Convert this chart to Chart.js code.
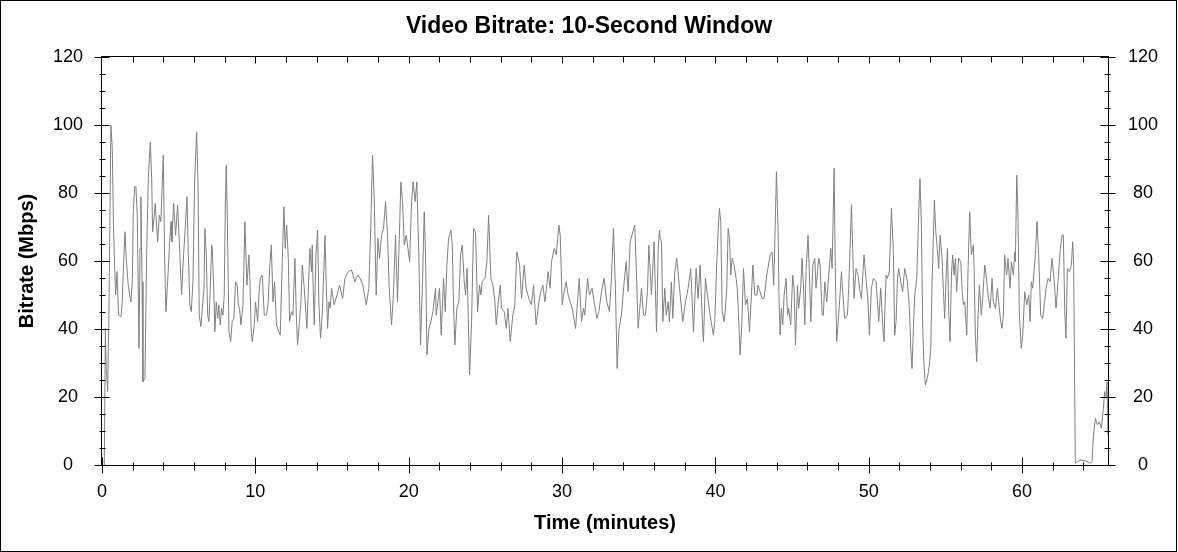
<!DOCTYPE html>
<html>
<head>
<meta charset="utf-8">
<title>Video Bitrate: 10-Second Window</title>
<script src="https://cdn.jsdelivr.net/npm/chart.js@4.4.1/dist/chart.umd.min.js"></script>
<style>
  html, body { margin: 0; padding: 0; background: #fff; }
  canvas { display: block; }
</style>
</head>
<body>
<canvas id="bitrateChart" width="1178" height="552"></canvas>
<script>
// time of each 10-second window sample, in minutes
const timeMinutes = [
  0.15, 0.22, 0.28, 0.37, 0.45, 0.58, 0.67, 0.74, 0.82, 0.89, 0.98, 1.08, 1.24, 1.32, 1.41,
  1.50, 1.58, 1.71, 1.80, 1.89, 1.98, 2.04, 2.13, 2.21, 2.30, 2.41, 2.48, 2.54, 2.61, 2.67,
  2.80, 2.91, 3.02, 3.15, 3.24, 3.30, 3.39, 3.47, 3.56, 3.63, 3.74, 3.84, 3.93, 4.00, 4.08,
  4.17, 4.28, 4.39, 4.50, 4.56, 4.67, 4.80, 4.93, 5.06, 5.19, 5.32, 5.45, 5.54, 5.63, 5.73,
  5.82, 5.93, 6.04, 6.17, 6.26, 6.34, 6.45, 6.56, 6.65, 6.71, 6.80, 6.89, 6.97, 7.06, 7.15,

  7.19, 7.30, 7.36, 7.45, 7.54, 7.62, 7.71, 7.80, 7.89, 7.97, 8.04, 8.10, 8.17, 8.28, 8.39,
  8.49, 8.60, 8.71, 8.82, 8.89, 8.97, 9.06, 9.19, 9.25, 9.32, 9.45, 9.58, 9.65, 9.73, 9.80,
  9.93, 10.01, 10.15, 10.23, 10.32, 10.45, 10.58, 10.73, 10.84, 10.93, 11.04, 11.15, 11.25, 11.38, 11.62,
  11.78, 11.86, 11.95, 12.04, 12.15, 12.23, 12.36, 12.45, 12.58, 12.67, 12.75, 12.88, 12.97, 13.06, 13.19,
  13.36, 13.49, 13.56, 13.67, 13.71, 13.77, 13.84, 13.95, 14.06, 14.14, 14.25, 14.36, 14.47,

  14.54, 14.62, 14.71, 14.80, 14.88, 14.97, 15.14, 15.32, 15.49, 15.69, 15.84, 16.06, 16.27, 16.49, 16.67,
  16.84, 17.01, 17.23, 17.40, 17.53, 17.64, 17.75, 17.88, 17.99, 18.10, 18.23, 18.36, 18.49, 18.62, 18.73,
  18.88, 18.99, 19.14, 19.27, 19.49, 19.60, 19.71, 19.84, 20.06, 20.19, 20.29, 20.42, 20.53, 20.66, 20.77,
  20.90, 21.01, 21.10, 21.19, 21.32, 21.45, 21.58, 21.75,

  21.79, 21.90, 22.01, 22.12, 22.27, 22.38, 22.49, 22.60, 22.75, 22.84, 22.92, 23.01, 23.14, 23.27, 23.38,
  23.49, 23.62, 23.71, 23.81, 23.97, 24.10, 24.23, 24.36, 24.49, 24.62, 24.71, 24.79, 24.97, 25.10, 25.21,
  25.36, 25.49, 25.62, 25.71, 25.84, 25.97, 26.05, 26.23, 26.36, 26.47, 26.62, 26.79, 26.92, 27.05, 27.23,
  27.36, 27.53, 27.66, 27.83, 28.01, 28.14, 28.31, 28.49, 28.62, 28.75, 28.88, 29.05,

  29.09, 29.22, 29.31, 29.49, 29.62, 29.79, 29.88, 30.01, 30.09, 30.27, 30.40, 30.53, 30.66, 30.88, 31.01,
  31.12, 31.27, 31.40, 31.48, 31.66, 31.79, 31.96, 32.09, 32.27, 32.40, 32.57, 32.74, 32.92, 33.09, 33.22,
  33.35, 33.48, 33.59, 33.72, 33.87, 34.05, 34.18, 34.31, 34.44, 34.74, 34.83, 34.96, 35.18, 35.31, 35.44,
  35.57, 35.66, 35.83, 36.00, 36.16, 36.27, 36.35,

  36.40, 36.48, 36.57, 36.70, 36.79, 36.92, 37.00, 37.13, 37.22, 37.35, 37.48, 37.66, 37.87, 38.05, 38.22,
  38.39, 38.57, 38.74, 38.87, 39.00, 39.18, 39.22, 39.35, 39.48, 39.65, 39.87, 39.96, 40.09, 40.20, 40.26,
  40.35, 40.44, 40.57, 40.65, 40.74, 40.83, 40.92, 41.00, 41.09, 41.22, 41.35, 41.44, 41.52, 41.61, 41.72,
  41.83, 41.96, 42.09, 42.22, 42.35, 42.44, 42.57, 42.70, 42.78, 42.91, 43.04, 43.17, 43.35, 43.57, 43.70,

  43.80, 43.87, 43.98, 44.09, 44.15, 44.22, 44.30, 44.39, 44.48, 44.61, 44.70, 44.78, 44.91, 45.04, 45.13,
  45.22, 45.35, 45.43, 45.56, 45.65, 45.74, 45.83, 45.91, 46.04, 46.13, 46.22, 46.35, 46.48, 46.56, 46.74,
  46.83, 46.96, 47.04, 47.13, 47.26, 47.39, 47.52, 47.61, 47.74, 47.82, 47.91, 48.04, 48.22, 48.30, 48.43,
  48.61, 48.69, 48.78, 48.87, 48.95, 49.04, 49.17, 49.30, 49.43, 49.52, 49.69, 49.82, 49.95, 50.04, 50.17,
  50.30, 50.48, 50.65, 50.78, 50.95,

  51.00, 51.06, 51.13, 51.21, 51.34, 51.48, 51.61, 51.69, 51.78, 51.87, 51.95, 52.08, 52.21, 52.34, 52.52,
  52.65, 52.74, 52.82, 52.91, 53.00, 53.13, 53.26, 53.34, 53.43, 53.52, 53.60, 53.69, 53.82, 53.95, 54.04,
  54.13, 54.21, 54.28, 54.37, 54.47, 54.56, 54.65, 54.78, 54.87, 54.95, 55.04, 55.13, 55.21, 55.30, 55.39,
  55.47, 55.56, 55.65, 55.73, 55.86, 56.00, 56.08, 56.17, 56.26, 56.39, 56.47, 56.58, 56.69, 56.82, 56.87,
  56.95, 57.04, 57.13, 57.21, 57.34, 57.43, 57.56, 57.65, 57.78, 57.91, 58.04, 58.12, 58.26,

  58.30, 58.39, 58.47, 58.60, 58.69, 58.78, 58.86, 58.99, 59.08, 59.21, 59.30, 59.43, 59.52, 59.56, 59.65,
  59.73, 59.82, 59.95, 60.04, 60.17, 60.30, 60.43, 60.52, 60.60, 60.69, 60.86, 60.97, 61.08, 61.21, 61.34,
  61.47, 61.56, 61.69, 61.82, 61.95, 62.08, 62.21, 62.34, 62.47, 62.60, 62.69, 62.78, 62.86, 62.95, 63.08,
  63.21, 63.30, 63.36, 63.47, 63.60, 63.84, 64.12, 64.47, 64.56, 64.65, 64.78, 64.91, 65.04, 65.17, 65.30,
  65.38, 65.47, 65.54, 65.60
];

// video bitrate in Mbps, one value per entry of timeMinutes
const bitrateMbps = [
  0, 40.2, 28.4, 21.6, 44.1, 100, 93.1, 72.5, 58.8, 50, 56.9, 44.1, 43.6, 48, 59.8,
  68.6, 60.8, 52.9, 50, 48, 54.9, 74.5, 81.9, 81.9, 73.5, 34.3, 63.7, 78.9, 53.9, 24.5,
  25.5, 61.8, 84.3, 95.1, 84.3, 68.6, 72.5, 77, 70.6, 65.7, 73.5, 71.6, 83.3, 91.2, 61.8,
  45.1, 53.9, 63.7, 71.6, 65.7, 77, 67.6, 76.5, 63.7, 50, 61.8, 71.6, 78.9, 61.8, 47.1,
  45.1, 53.9, 83.3, 98, 83.3, 44.1, 40.7, 47.1, 52, 69.6, 61.8, 44.1, 42.2, 52, 64.7,

  63.7, 50, 39.2, 48, 43.1, 47.1, 41.2, 46.1, 44.1, 50, 75.5, 88.2, 73.5, 39.2, 36.3,
  42.2, 43.1, 53.9, 52.9, 47.1, 46.1, 41.2, 47.1, 57.8, 71.6, 52.9, 61.8, 53.9, 39.2, 36.3,
  41.2, 48, 42.2, 50, 54.9, 55.9, 44.1, 44.1, 48, 57.8, 64.7, 48, 53.9, 41.2, 38.2,
  63.7, 76, 63.7, 70.6, 60.8, 42.2, 45.1, 44.1, 60.8, 44.1, 35.3, 42.2, 48, 58.8, 52,
  40.2, 55.9, 63.7, 56.9, 64.7, 52, 41.2, 61.8, 69.1, 48, 37.3, 44.1, 57.8,

  67.6, 53.9, 40.2, 48, 46.1, 52, 47.1, 50, 52.9, 49, 54.9, 56.9, 57.4, 53.9, 55.9,
  54.9, 52.9, 47.1, 52, 70.6, 91.2, 78.4, 50, 66.7, 60.8, 67.6, 69.6, 77.5, 67.6, 52,
  41.2, 49, 67.6, 48, 83.3, 77.5, 64.7, 67.6, 59.8, 77.5, 83.3, 77.5, 83.3, 61.8, 35.3,
  53.9, 74.5, 61.8, 32.4, 40.2, 42.2, 45.1, 52,

  44.1, 48, 52, 38.2, 54.9, 45.1, 58.8, 66.7, 69.1, 64.7, 48, 35.3, 46.1, 48, 61.8,
  64.7, 53.9, 50, 57.8, 26.5, 42.2, 69.6, 68.6, 45.1, 52.9, 50, 53.9, 54.9, 59.8, 73.5,
  54.9, 52.9, 48, 41.2, 48, 52.9, 46.1, 45.1, 40.2, 46.1, 36.3, 44.1, 47.1, 62.7, 58.8,
  49, 58.8, 52, 49, 47.1, 52.9, 41.2, 48, 51, 52.9, 48, 54.9,

  56.9, 52, 59.8, 63.7, 61.8, 70.6, 67.6, 47.1, 50, 53.9, 50, 48, 46.1, 40.2, 48,
  54.9, 42.2, 46.1, 44.1, 54.9, 50, 52, 48, 43.1, 45.1, 51, 54.9, 48, 45.1, 54.9,
  69.6, 52, 28.4, 40.2, 44.1, 53.9, 59.8, 51, 65.7, 70.6, 58.8, 40.2, 52, 44.1, 44.1,
  51, 64.7, 50, 65.7, 39.2, 63.7, 69.1,

  66.7, 65.7, 42.2, 52, 44.1, 48, 42.2, 53.9, 43.1, 56.9, 60.8, 52, 42.2, 48, 52,
  57.8, 39.2, 57.8, 49, 58.8, 39.2, 36.3, 54.9, 50, 44.1, 38.2, 42.2, 59.8, 70.6, 75.5,
  71.6, 45.1, 42.2, 46.1, 52, 69.6, 66.7, 55.9, 60.8, 58.8, 54.9, 51, 42.2, 32.4, 41.2,
  57.8, 47.1, 49, 39.2, 50, 58.8, 50, 50, 52.9, 51, 49, 49, 55.9, 61.8, 62.7,

  52.9, 64.7, 86.3, 68.6, 48, 38.2, 46.1, 41.2, 50, 54.9, 44.1, 46.1, 41.2, 55.9, 52,
  35.3, 52.9, 46.1, 52, 60.8, 52.9, 41.2, 56.9, 67.6, 55.9, 42.2, 58.8, 60.8, 52, 60.8,
  58.8, 44.1, 44.1, 53.9, 48, 55.9, 63.7, 57.8, 87.3, 55.9, 36.3, 44.1, 56.9, 51, 43.1,
  44.1, 52, 63.7, 76.5, 63.7, 49, 57.8, 55.9, 51, 49, 61.8, 54.9, 48, 38.2, 52,
  54.9, 53.9, 42.2, 52, 38.2,

  36.3, 47.1, 55.9, 54.9, 56.9, 75.5, 61.8, 38.2, 42.2, 54.9, 57.8, 53.9, 51, 57.8, 53.9,
  46.1, 34.3, 28.4, 40.2, 50, 54.9, 74.5, 84.3, 70.6, 40.2, 29.4, 23.5, 25.5, 29.4, 34.3,
  53.9, 66.7, 77.9, 68.6, 63.7, 57.8, 67.6, 60.8, 51, 43.1, 54.9, 63.7, 46.1, 36.3, 55.9,
  61.8, 55.9, 60.8, 51, 60.8, 59.8, 52, 47.1, 48, 38.2, 56.9, 74.5, 61.8, 64.7, 57.8,
  38.2, 30.4, 44.1, 52.9, 44.1, 49, 58.8, 55.9, 50, 46.1, 54.9, 48, 46.1,

  48, 52, 48, 42.2, 40.2, 44.1, 61.8, 55.9, 60.8, 52, 59.8, 55.9, 62.7, 59.8, 85.3,
  73.5, 44.1, 34.3, 38.2, 51, 47.1, 50, 42.2, 53.9, 52, 61.8, 71.6, 61.8, 44.1, 43.1,
  48, 52, 54.9, 53.9, 60.8, 54.9, 46.1, 53.9, 62.7, 67.6, 67.6, 45.1, 37.3, 57.8, 56.9,
  58.8, 65.7, 58.8, 0.5, 1, 1.5, 1.2, 0.5, 1, 8.8, 13.7, 11.8, 12.7, 10.8, 16.7,
  21.6, 19.6, 24.5, 8.8
];

const xTickLabels = [0, 10, 20, 30, 40, 50, 60];
const yTickLabels = [0, 20, 40, 60, 80, 100, 120];
const xMinorStep = 2;
const yMinorStep = 5;
const xMax = 65.6;
const yMax = 120;

Chart.defaults.font.family = '"Liberation Sans", Arial, sans-serif';
Chart.defaults.color = '#000';

// frame round the plot and the page, plus ticks like the original graph
const frameAndTicks = {
  id: 'frameAndTicks',
  afterDraw(chart) {
    const { ctx, chartArea: a, scales: { x, y } } = chart;
    const L = Math.round(a.left) - 0.5;
    const R = Math.round(a.right) + 0.5;
    const T = Math.round(a.top) - 0.5;
    const B = Math.round(a.bottom) + 0.5;
    ctx.save();
    ctx.strokeStyle = '#000';
    ctx.lineWidth = 1;
    ctx.strokeRect(0.5, 0.5, chart.width - 2, chart.height - 1);
    ctx.strokeRect(L, T, R - L, B - T);

    ctx.beginPath();
    for (let v = 0; v <= xMax; v += xMinorStep) {
      const px = Math.round(x.getPixelForValue(v)) + 0.5;
      const major = xTickLabels.includes(v);
      ctx.moveTo(px, B - (major ? 8 : 3));
      ctx.lineTo(px, B + (major ? 8 : 5));
      if (v > 0) {
        ctx.moveTo(px, T);
        ctx.lineTo(px, T + (major ? 7 : 6));
      }
    }
    for (let v = 0; v <= yMax; v += yMinorStep) {
      const py = Math.round(y.getPixelForValue(v)) + 0.5;
      const major = yTickLabels.includes(v);
      const o = major ? 7 : 2;
      const i = major ? 8 : 4;
      ctx.moveTo(L - o, py);
      ctx.lineTo(L + i, py);
      ctx.moveTo(R + o, py);
      ctx.lineTo(R - i, py);
    }
    ctx.stroke();
    ctx.restore();
  }
};

const tickFont = { size: 18 };
const axisTitleFont = { size: 20, weight: 'bold' };

new Chart(document.getElementById('bitrateChart'), {
  type: 'line',
  data: {
    datasets: [{
      label: 'Video Bitrate',
      data: timeMinutes.map((t, i) => ({ x: t, y: bitrateMbps[i] })),
      borderColor: '#808080',
      borderWidth: 1,
      pointRadius: 0,
      tension: 0,
      yAxisID: 'y'
    }]
  },
  options: {
    responsive: false,
    animation: false,
    events: [],
    layout: { padding: 0 },
    plugins: {
      legend: { display: false },
      tooltip: { enabled: false },
      title: {
        display: true,
        text: 'Video Bitrate: 10-Second Window',
        font: { size: 23, weight: 'bold' },
        color: '#000',
        padding: { top: 12.5, bottom: 17 }
      }
    },
    scales: {
      x: {
        type: 'linear',
        position: 'bottom',
        min: 0,
        max: xMax,
        afterBuildTicks: s => { s.ticks = xTickLabels.map(v => ({ value: v })); },
        afterFit: s => { s.height = 87; },
        grid: { display: false, drawTicks: false },
        border: { display: false },
        ticks: { font: tickFont, padding: 16, maxRotation: 0 },
        title: { display: true, text: 'Time (minutes)', font: axisTitleFont, padding: { top: 0, bottom: 17 } }
      },
      y: {
        type: 'linear',
        position: 'left',
        min: 0,
        max: yMax,
        afterBuildTicks: s => { s.ticks = yTickLabels.map(v => ({ value: v })); },
        afterFit: s => { s.width = 102; },
        grid: { display: false, drawTicks: false },
        border: { display: false },
        ticks: { font: tickFont, padding: 19, crossAlign: 'center' },
        title: { display: true, text: 'Bitrate (Mbps)', font: axisTitleFont, padding: { top: 15, bottom: 0 } }
      },
      y2: {
        type: 'linear',
        position: 'right',
        min: 0,
        max: yMax,
        afterBuildTicks: s => { s.ticks = yTickLabels.map(v => ({ value: v })); },
        afterFit: s => { s.width = 70; },
        grid: { display: false, drawTicks: false },
        border: { display: false },
        ticks: { font: tickFont, padding: 20, crossAlign: 'center' }
      }
    }
  },
  plugins: [frameAndTicks]
});
</script>
</body>
</html>
